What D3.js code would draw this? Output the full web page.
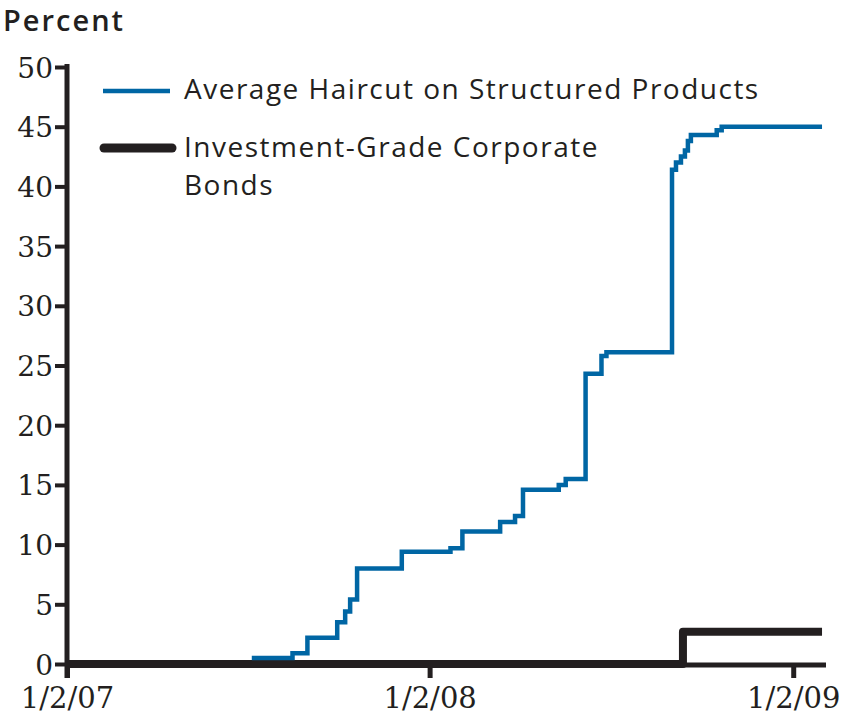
<!DOCTYPE html>
<html>
<head>
<meta charset="utf-8">
<script src="https://cdn.jsdelivr.net/npm/d3@7"></script>
<style>
  body { margin: 0; background: #fff; }
  svg { display: block; }
</style>
</head>
<body>
<script>
var width = 844,
    height = 719;

// haircut on structured products (percent), step series
var blueDates = ["2007-07-07", "2007-08-17", "2007-09-01", "2007-10-01", "2007-10-09", "2007-10-14",
    "2007-10-21", "2007-12-05", "2008-01-23", "2008-02-04", "2008-03-13", "2008-03-28", "2008-04-05",
    "2008-05-11", "2008-05-18", "2008-06-07", "2008-06-23", "2008-06-28", "2008-09-02", "2008-09-06",
    "2008-09-11", "2008-09-15", "2008-09-18", "2008-09-21", "2008-10-17", "2008-10-22", "2009-01-31"];
var blueValues = [0.5, 0.9, 2.2, 3.5, 4.4, 5.4,
    8.0, 9.4, 9.7, 11.1, 11.9, 12.4, 14.6,
    15.0, 15.5, 24.3, 25.8, 26.1, 41.4, 42.0,
    42.5, 43.0, 43.8, 44.3, 44.7, 45.0, 45.0];

// investment-grade corporate bonds
var blackDates = ["2007-01-02", "2008-09-13", "2009-01-31"];
var blackValues = [0, 2.7, 2.7];

var yTicks = [0, 5, 10, 15, 20, 25, 30, 35, 40, 45, 50];
var xTickDates = ["2007-01-02", "2008-01-02", "2009-01-02"];
var xTickLabels = ["1/2/07", "1/2/08", "1/2/09"];
var legendLabels = ["Average Haircut on Structured Products", "Investment-Grade Corporate", "Bonds"];

var parse = d3.timeParse("%Y-%m-%d");
var blueColor = "#0066a4",
    ink = "#231f20",
    sans = "'Open Sans', Lato, sans-serif",
    serif = "'DejaVu Serif', serif";

var x = d3.scaleTime()
    .domain([parse("2007-01-02"), parse("2009-02-04")])
    .range([67, 826]);

var y = d3.scaleLinear()
    .domain([0, 50])
    .range([664, 67]);

var svg = d3.select("body").append("svg")
    .attr("width", width)
    .attr("height", height);

// y axis title
svg.append("text")
    .attr("x", 3)
    .attr("y", 31)
    .style("font-family", sans)
    .style("font-size", "29px")
    .style("font-weight", 600)
    .style("letter-spacing", "2px")
    .style("fill", ink)
    .text("Percent");

// y axis
var yAxis = svg.append("g")
    .attr("transform", "translate(67,0)")
    .call(d3.axisLeft(y).tickValues(yTicks).tickSize(12).tickPadding(2));
yAxis.select(".domain").remove();
yAxis.selectAll(".tick line").attr("stroke", ink).attr("stroke-width", 4);
yAxis.selectAll(".tick text")
    .attr("dy", "0.36em")
    .style("font-family", serif)
    .style("font-size", "28px")
    .style("fill", ink);
svg.append("line")
    .attr("x1", 67).attr("x2", 67)
    .attr("y1", y(50) - 3).attr("y2", 678)
    .attr("stroke", ink).attr("stroke-width", 5);

// x axis
var xAxis = svg.append("g")
    .attr("transform", "translate(0,665)")
    .call(d3.axisBottom(x)
        .tickValues(xTickDates.map(parse))
        .tickSize(13)
        .tickPadding(9)
        .tickFormat(function (d, i) { return xTickLabels[i]; }));
xAxis.select(".domain").remove();
xAxis.selectAll(".tick line").attr("stroke", ink).attr("stroke-width", 5);
xAxis.selectAll(".tick text")
    .style("font-family", serif)
    .style("font-size", "29px")
    .style("fill", ink);
svg.append("line")
    .attr("x1", 67).attr("x2", 826)
    .attr("y1", 665).attr("y2", 665)
    .attr("stroke", ink).attr("stroke-width", 5);

var line = d3.line()
    .curve(d3.curveStepAfter)
    .x(function (d) { return x(d.date); })
    .y(function (d) { return y(d.value); });

var blackData = blackDates.map(function (d, i) { return { date: parse(d), value: blackValues[i] }; });
var blueData = blueDates.map(function (d, i) { return { date: parse(d), value: blueValues[i] }; });

svg.append("path")
    .datum(blackData)
    .attr("d", line)
    .attr("fill", "none")
    .attr("stroke", ink)
    .attr("stroke-width", 8)
    .attr("stroke-linejoin", "round");

svg.append("path")
    .datum(blueData)
    .attr("d", line)
    .attr("fill", "none")
    .attr("stroke", blueColor)
    .attr("stroke-width", 4.5);

// legend
svg.append("line")
    .attr("x1", 103).attr("x2", 170)
    .attr("y1", 91).attr("y2", 91)
    .attr("stroke", blueColor).attr("stroke-width", 4.5);
svg.append("line")
    .attr("x1", 104).attr("x2", 172)
    .attr("y1", 148).attr("y2", 148)
    .attr("stroke", ink).attr("stroke-width", 9)
    .attr("stroke-linecap", "round");

svg.selectAll(".legend-text")
    .data(legendLabels)
    .enter().append("text")
    .attr("class", "legend-text")
    .attr("x", 184)
    .attr("y", function (d, i) { return [99, 157, 195][i]; })
    .style("font-family", sans)
    .style("font-size", "28px")
    .style("font-weight", 500)
    .style("letter-spacing", "1.5px")
    .style("fill", ink)
    .text(function (d) { return d; });
</script>
</body>
</html>
